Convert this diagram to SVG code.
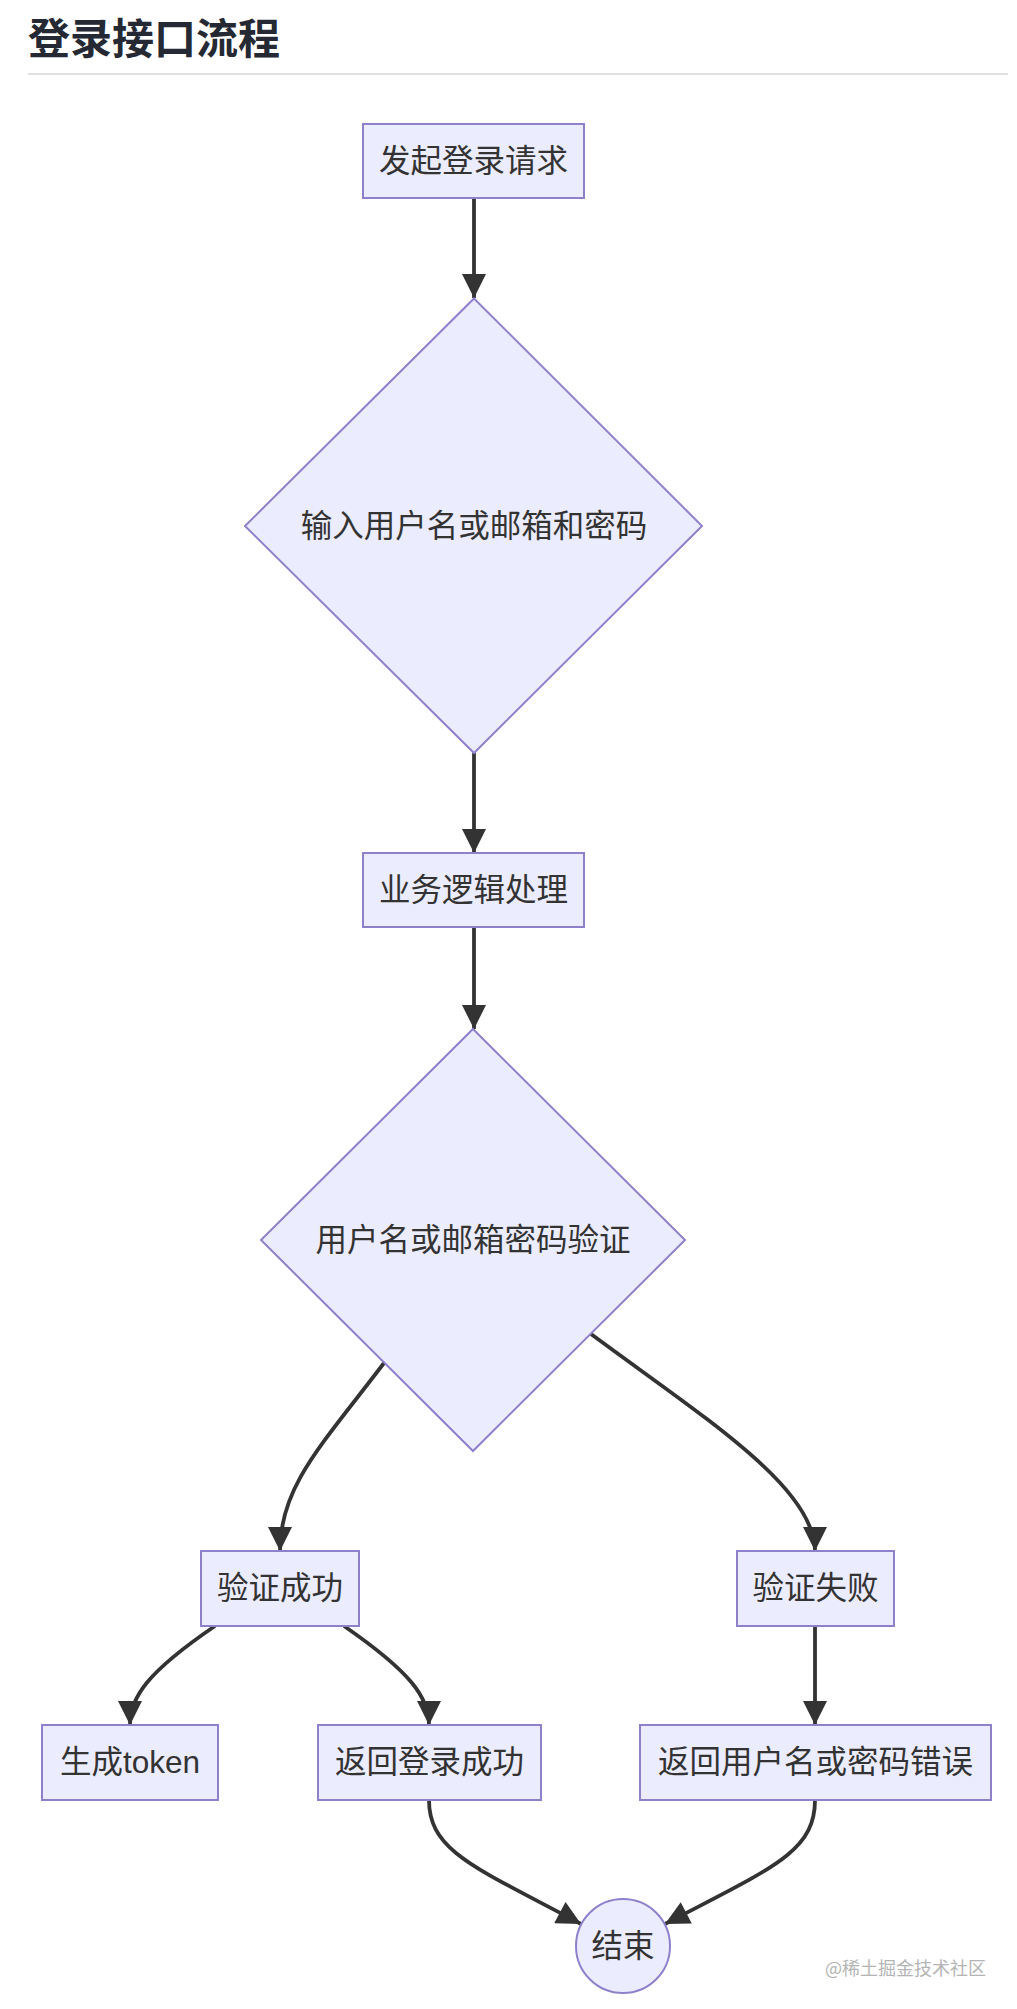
<svg xmlns="http://www.w3.org/2000/svg" width="1017" height="2009" viewBox="0 0 1017 2009">
<style>
.node rect, .node polygon, .node circle { fill: #ECECFF; stroke: #8f80cc; stroke-width: 2; }
.node text { font-family: "Liberation Sans", "Noto Sans CJK SC", sans-serif; font-size: 31.5px; fill: #333333; text-anchor: middle; }
.edges path { fill: none; stroke: #333333; stroke-width: 3.8; marker-end: url(#arrow); }
.title { font-family: "Noto Sans CJK SC", sans-serif; font-size: 42px; font-weight: bold; fill: #252933; }
.wm { font-family: "Noto Sans CJK SC", sans-serif; font-size: 18px; fill: #b4b4b4; }
</style>
<defs>
<marker id="arrow" viewBox="0 0 10 10" markerUnits="userSpaceOnUse" markerWidth="26" markerHeight="24" refX="10" refY="5" orient="auto">
<path d="M0,0 L10,5 L0,10 z" fill="#333333"/>
</marker>
</defs>
<rect width="1017" height="2009" fill="#ffffff"/>
<text class="title" x="28" y="54">登录接口流程</text>
<rect x="28" y="73" width="980" height="2" fill="#e0e0e0"/>

<g class="edges" id="connectors">
<path d="M474,198 L474,298"/>
<path d="M474,753 L474,853"/>
<path d="M474,927 L474,1029"/>
<path d="M384,1363 C320,1447 280,1487 280,1551"/>
<path d="M591,1334 C703,1417 815,1487 815,1551"/>
<path d="M215,1626 C146,1673 130,1698 130,1725"/>
<path d="M344,1626 C412,1673 429,1698 429,1725"/>
<path d="M815,1626 L815,1725"/>
<path d="M429,1800 C429,1852 477,1868 581,1924"/>
<path d="M815,1800 C815,1852 772,1868 665,1924"/>
</g>

<g class="node" id="node-start">
<rect x="363" y="124" width="221" height="74"/>
<text x="473.5" y="172">发起登录请求</text>
</g>
<g class="node" id="node-input">
<polygon points="474,298.5 702,526 474,753 245,526"/>
<text x="474" y="537">输入用户名或邮箱和密码</text>
</g>
<g class="node" id="node-logic">
<rect x="363" y="853" width="221" height="74"/>
<text x="473.5" y="901">业务逻辑处理</text>
</g>
<g class="node" id="node-verify">
<polygon points="473,1029 685,1240 473,1451 261,1240"/>
<text x="473" y="1251">用户名或邮箱密码验证</text>
</g>
<g class="node" id="node-success">
<rect x="201" y="1551" width="158" height="75"/>
<text x="280" y="1599">验证成功</text>
</g>
<g class="node" id="node-fail">
<rect x="737" y="1551" width="157" height="75"/>
<text x="815.5" y="1599">验证失败</text>
</g>
<g class="node" id="node-token">
<rect x="42" y="1725" width="176" height="75"/>
<text x="130" y="1773">生成token</text>
</g>
<g class="node" id="node-return-ok">
<rect x="318" y="1725" width="223" height="75"/>
<text x="429.5" y="1773">返回登录成功</text>
</g>
<g class="node" id="node-return-err">
<rect x="640" y="1725" width="351" height="75"/>
<text x="815.5" y="1773">返回用户名或密码错误</text>
</g>
<g class="node" id="node-end">
<circle cx="623" cy="1946" r="47"/>
<text x="623" y="1957">结束</text>
</g>
<text class="wm" x="825" y="1975">@稀土掘金技术社区</text>
</svg>
